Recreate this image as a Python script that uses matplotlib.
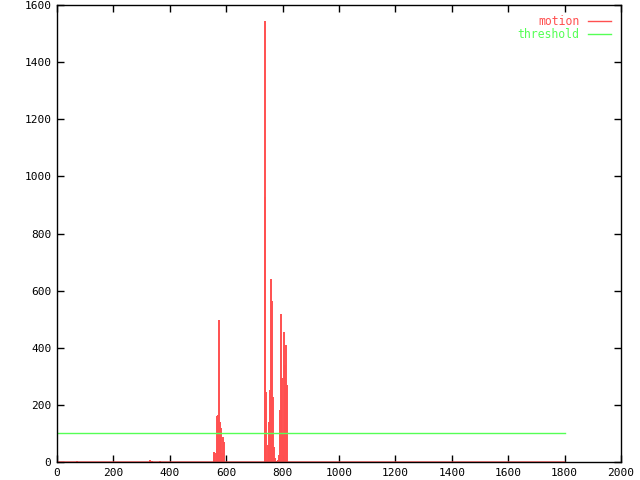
import numpy as np
import matplotlib
matplotlib.use("Agg")
import matplotlib.pyplot as plt
from matplotlib.lines import Line2D

# frames with motion above zero (everything else is 0)
spike_frames = [71, 330, 337, 365,
                555, 558, 562, 566, 569, 571, 574, 578, 582, 585, 589, 592,
                736, 738, 741, 745, 748, 752, 755, 759, 762, 766, 770, 773,
                777, 780, 784, 787, 791, 794, 798, 801, 805, 808, 812, 816]
spike_values = [5, 7, 5, 4,
                25, 36, 30, 45, 160, 165, 497, 141, 120, 30, 89, 70,
                928, 1544, 245, 7, 60, 140, 252, 641, 564, 228, 53, 14,
                3, 3, 7, 25, 182, 518, 294, 95, 455, 340, 410, 270]
n_frames = 1800
threshold = 100

frames = np.arange(n_frames + 1)
motion = np.zeros(n_frames + 1)
motion[spike_frames] = spike_values

red = "#ff5050"
green = "#55ff55"

plt.rcParams["font.family"] = "DejaVu Sans Mono"
plt.rcParams["font.size"] = 8

fig = plt.figure(figsize=(6.4, 4.8), dpi=100)
ax = fig.add_axes([57 / 640, 18 / 480, 564 / 640, 457 / 480])

ax.vlines(frames, 0, motion, color=red, lw=1.4)
ax.plot(frames, motion * 0, color=red, lw=1.0)
ax.plot([frames[0], frames[-1]], [threshold, threshold], color=green, lw=1.0)

ax.set_xlim(0, 2000)
ax.set_ylim(0, 1600)
ax.set_xticks(range(0, 2001, 200))
ax.set_yticks(range(0, 1601, 200))
ax.tick_params(direction="in", length=5, width=1, top=True, right=True,
               pad=4, colors="black")
for s in ax.spines.values():
    s.set_linewidth(1)

handles = [Line2D([], [], color=red, lw=1), Line2D([], [], color=green, lw=1)]
leg = ax.legend(handles, ["motion", "threshold"], loc="upper right",
                frameon=False, markerfirst=False, handlelength=2.0,
                handletextpad=0.75, labelspacing=0.0, borderaxespad=0.45,
                labelcolor=[red, green], prop={"size": 8.3})

fig.savefig("out.png", dpi=100)
